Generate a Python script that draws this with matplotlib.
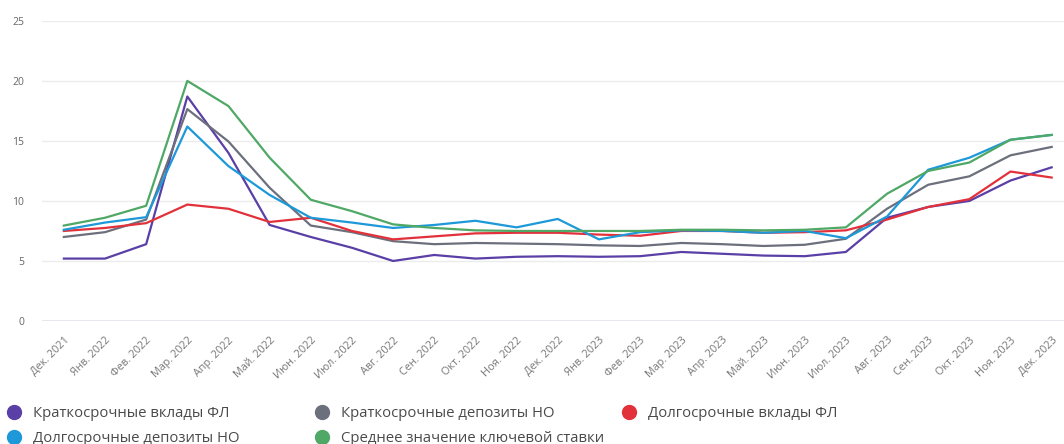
import matplotlib.pyplot as plt
from matplotlib.lines import Line2D

plt.rcParams['font.family'] = ['Open Sans', 'DejaVu Sans']

# подписи месяцев
months = ["Дек. 2021", "Янв. 2022", "Фев. 2022", "Мар. 2022", "Апр. 2022", "Май. 2022",
          "Июн. 2022", "Июл. 2022", "Авг. 2022", "Сен. 2022", "Окт. 2022", "Ноя. 2022",
          "Дек. 2022", "Янв. 2023", "Фев. 2023", "Мар. 2023", "Апр. 2023", "Май. 2023",
          "Июн. 2023", "Июл. 2023", "Авг. 2023", "Сен. 2023", "Окт. 2023", "Ноя. 2023",
          "Дек. 2023"]

# ставки, %
short_fl = [5.2, 5.2, 6.4, 18.7, 14.0, 8.0, 7.0, 6.1, 5.0, 5.5, 5.2, 5.35,
            5.4, 5.35, 5.4, 5.75, 5.6, 5.45, 5.4, 5.75, 8.6, 9.5, 10.0, 11.7, 12.8]
short_no = [7.0, 7.4, 8.45, 17.65, 14.95, 11.1, 7.95, 7.4, 6.65, 6.4, 6.5, 6.45,
            6.4, 6.3, 6.25, 6.5, 6.4, 6.25, 6.35, 6.85, 9.35, 11.35, 12.05, 13.8, 14.5]
long_fl = [7.5, 7.75, 8.15, 9.7, 9.35, 8.25, 8.6, 7.5, 6.8, 7.05, 7.3, 7.35,
           7.35, 7.2, 7.1, 7.5, 7.5, 7.35, 7.4, 7.55, 8.45, 9.5, 10.15, 12.45, 11.95]
long_no = [7.6, 8.2, 8.65, 16.2, 12.9, 10.5, 8.6, 8.2, 7.75, 8.0, 8.35, 7.8,
           8.5, 6.8, 7.4, 7.55, 7.5, 7.35, 7.5, 6.9, 8.7, 12.6, 13.6, 15.1, 15.5]
key_rate = [7.95, 8.6, 9.6, 20.0, 17.9, 13.6, 10.1, 9.15, 8.05, 7.75, 7.55, 7.5,
            7.5, 7.5, 7.5, 7.6, 7.6, 7.55, 7.6, 7.8, 10.6, 12.5, 13.2, 15.1, 15.5]

series = [
    ("Краткосрочные вклады ФЛ", short_fl, "#5a3fa6"),
    ("Краткосрочные депозиты НО", short_no, "#6b707c"),
    ("Долгосрочные вклады ФЛ", long_fl, "#e2313b"),
    ("Долгосрочные депозиты НО", long_no, "#1d98d8"),
    ("Среднее значение ключевой ставки", key_rate, "#4fa865"),
]

fig = plt.figure(figsize=(10.64, 4.44), dpi=100)
ax = fig.add_axes([0.0395, 0.277, 0.9605, 0.676])

x = range(len(months))
for name, vals, col in series:
    ax.plot(x, vals, color=col, lw=1.6, label=name, zorder=3)

ax.set_ylim(0, 25)
ax.set_xlim(-0.53, 24.3)
ax.set_yticks([0, 5, 10, 15, 20, 25])
ax.grid(axis='y', color='#ececec', lw=1)
ax.axhline(0, color='#dfe4ee', lw=1.2, zorder=1)
for s in ax.spines.values():
    s.set_visible(False)
ax.set_xticks(list(x))
ax.set_xticklabels(months, rotation=45, ha='right', rotation_mode='anchor',
                   fontsize=7.8, color='#777777')
ax.tick_params(axis='x', length=0, pad=10)
ax.tick_params(axis='y', length=0, pad=13, labelsize=7.5, labelcolor='#666666')

# легенда в три колонки, как в оригинале
def handle(name, col):
    return Line2D([], [], marker='o', ls='none', ms=10, color=col, label=name)

h = [handle(n, c) for n, _, c in series]
cols = [([h[0], h[3]], 5 / 1064), ([h[1], h[4]], 313 / 1064), ([h[2]], 620 / 1064)]
for hs, x0 in cols:
    fig.legend(handles=hs, loc='upper left', bbox_to_anchor=(x0, 0.086),
               bbox_transform=fig.transFigure, frameon=False, fontsize=10.7,
               labelcolor='#4a4a4a', handletextpad=0.67, labelspacing=0.68,
               borderaxespad=0, borderpad=0, handlelength=1.2)

fig.savefig("out.png", dpi=100)
